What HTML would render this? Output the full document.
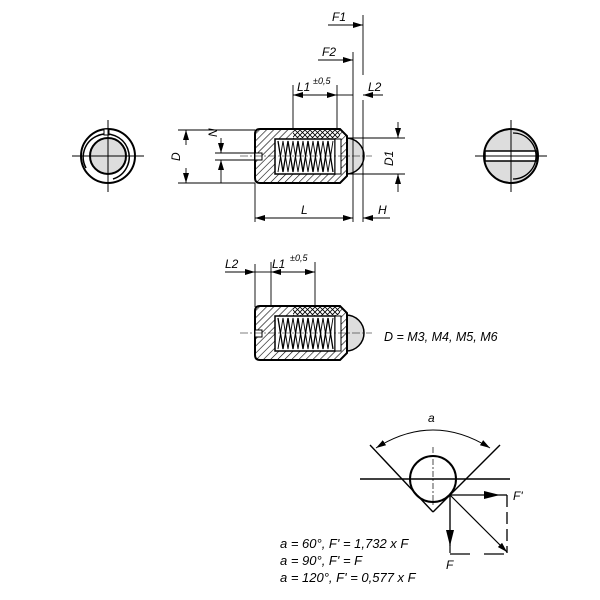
<!DOCTYPE html>
<html><head><style>body{margin:0;background:#fff}svg{display:block}text{font-family:"Liberation Sans",sans-serif;font-style:italic;fill:#000}</style></head>
<body>
<svg width="600" height="600" viewBox="0 0 600 600">
<defs>
<pattern id="h" width="5" height="5" patternUnits="userSpaceOnUse" patternTransform="rotate(45)"><rect width="5" height="5" fill="#fff"/><line x1="0" y1="0" x2="0" y2="5" stroke="#000" stroke-width="1.2"/></pattern>
<pattern id="x" width="5" height="5" patternUnits="userSpaceOnUse"><rect width="5" height="5" fill="#fff"/><path d="M0 0L5 5M5 0L0 5" stroke="#000" stroke-width="0.8"/></pattern>
<marker id="a" viewBox="0 0 10 6" refX="10" refY="3" markerWidth="10" markerHeight="6" orient="auto" markerUnits="userSpaceOnUse"><path d="M0 0L10 3L0 6z"/></marker>
<marker id="s" viewBox="0 0 10 6" refX="0" refY="3" markerWidth="10" markerHeight="6" orient="auto" markerUnits="userSpaceOnUse"><path d="M10 0L0 3L10 6z"/></marker>
<marker id="b" viewBox="0 0 16 8" refX="16" refY="4" markerWidth="16" markerHeight="8" orient="auto" markerUnits="userSpaceOnUse"><path d="M0 0L16 4L0 8z"/></marker>
<g id="pin">
<circle cx="346" cy="156" r="18" fill="#ddd" stroke="#000" stroke-width="1.5"/>
<path d="M255 134Q255 129 260 129H340L347 136V176L340 183H260Q255 183 255 178Z" fill="url(#h)" stroke="#000" stroke-width="2"/>
<rect x="293" y="130" width="47" height="8" fill="url(#x)"/>
<rect x="275" y="139" width="60" height="35" fill="#fff" stroke="#000" stroke-width="1.5"/>
<path d="M278 141L283 172L288 141L293 172L298 141L303 172L308 141L313 172L318 141L323 172L328 141L333 172" fill="none" stroke="#000" stroke-width="1.3"/>
<path d="M278 172L283 141L288 172L293 141L298 172L303 141L308 172L313 141L318 172L323 141L328 172L333 141" fill="none" stroke="#000" stroke-width="0.9"/>
<rect x="335" y="139" width="6" height="35" fill="#fff" stroke="#000" stroke-width="1"/>
<rect x="255" y="153" width="7" height="7" fill="#fff" stroke="#000" stroke-width="1"/>
<line x1="240" y1="156" x2="372" y2="156" stroke="#000" stroke-width="0.6" stroke-dasharray="8 2 2 2"/>
</g>
</defs>
<g stroke="#000" fill="none" stroke-width="1">
<circle cx="108" cy="156" r="27" stroke-width="2"/>
<circle cx="108" cy="156" r="18" fill="#ddd" stroke-width="2"/>
<path d="M86 168A23 23 0 1 1 113 179" stroke-width="1.5"/>
<rect x="104" y="129" width="5" height="6" fill="#fff"/>
<line x1="72" y1="156" x2="144" y2="156"/><line x1="108" y1="120" x2="108" y2="192"/>
<circle cx="511" cy="156" r="27" fill="#ddd" stroke-width="2"/>
<rect x="485" y="151" width="52" height="10" fill="#fff" stroke-width="1.5"/>
<path d="M513 133A23 23 0 0 1 513 179" stroke-width="1.3"/>
<line x1="475" y1="156" x2="547" y2="156"/><line x1="511" y1="120" x2="511" y2="192"/>
</g>
<use href="#pin"/>
<use href="#pin" transform="translate(0,177)"/>
<g stroke="#000" fill="none" stroke-width="0.9">
<line x1="178" y1="130" x2="255" y2="130"/><line x1="178" y1="183" x2="255" y2="183"/>
<line x1="186" y1="145" x2="186" y2="130" marker-end="url(#a)"/><line x1="186" y1="168" x2="186" y2="183" marker-end="url(#a)"/>
<line x1="215" y1="153" x2="255" y2="153"/><line x1="215" y1="160" x2="255" y2="160"/>
<line x1="221" y1="138" x2="221" y2="153" marker-end="url(#a)"/><line x1="221" y1="183" x2="221" y2="160" marker-end="url(#a)"/>
<line x1="346" y1="138" x2="405" y2="138"/><line x1="346" y1="174" x2="405" y2="174"/>
<line x1="398" y1="122" x2="398" y2="138" marker-end="url(#a)"/><line x1="398" y1="192" x2="398" y2="174" marker-end="url(#a)"/>
<line x1="255" y1="183" x2="255" y2="222"/>
<line x1="353" y1="52" x2="353" y2="222"/>
<line x1="363" y1="15" x2="363" y2="75"/><line x1="363" y1="100" x2="363" y2="222"/>
<line x1="293" y1="85" x2="293" y2="130"/><line x1="337" y1="85" x2="337" y2="130"/>
<line x1="300" y1="218" x2="255" y2="218" marker-end="url(#a)"/><line x1="300" y1="218" x2="353" y2="218" marker-end="url(#a)"/>
<line x1="390" y1="218" x2="363" y2="218" marker-end="url(#a)"/>
<line x1="328" y1="25" x2="363" y2="25" marker-end="url(#a)"/>
<line x1="318" y1="60" x2="353" y2="60" marker-end="url(#a)"/>
<line x1="315" y1="95" x2="293" y2="95" marker-end="url(#a)"/><line x1="315" y1="95" x2="337" y2="95" marker-end="url(#a)"/>
<line x1="337" y1="95" x2="353" y2="95"/>
<line x1="383" y1="95" x2="363" y2="95" marker-end="url(#a)"/>
<line x1="255" y1="264" x2="255" y2="307"/><line x1="271" y1="262" x2="271" y2="307"/><line x1="315" y1="262" x2="315" y2="307"/>
<line x1="225" y1="272" x2="255" y2="272" marker-end="url(#a)"/>
<line x1="255" y1="272" x2="271" y2="272"/>
<line x1="295" y1="272" x2="271" y2="272" marker-end="url(#a)"/><line x1="295" y1="272" x2="315" y2="272" marker-end="url(#a)"/>
<line x1="370" y1="445" x2="433" y2="512" stroke-width="1.4"/><line x1="433" y1="512" x2="500" y2="445" stroke-width="1.4"/>
<line x1="360" y1="479" x2="510" y2="479" stroke-width="1.6"/>
<circle cx="433" cy="479" r="23" stroke-width="2"/>
<line x1="433" y1="447" x2="433" y2="505" stroke-dasharray="6 2 2 2" stroke-width="0.7"/>
<path d="M376 448Q433 412 490 448" marker-start="url(#s)" marker-end="url(#a)"/>
<line x1="450" y1="495" x2="500" y2="495" stroke-width="1.2" marker-end="url(#b)"/>
<line x1="450" y1="495" x2="450" y2="553" stroke-width="1.2"/>
<line x1="450" y1="495" x2="450" y2="546" stroke-width="1.2" marker-end="url(#b)"/>
<line x1="450" y1="495" x2="507" y2="552" stroke-width="1.2" marker-end="url(#a)"/>
<line x1="507" y1="495" x2="507" y2="553" stroke-dasharray="12 5" stroke-width="1.3"/>
<line x1="450" y1="554" x2="507" y2="554" stroke-dasharray="20 14" stroke-width="1.3"/>
<line x1="500" y1="495" x2="507" y2="495" stroke-width="1.3"/>
</g>
<g font-size="12">
<text x="332" y="21">F1</text>
<text x="322" y="56">F2</text>
<text x="297" y="91">L1</text><text x="313" y="84" font-size="9">±0,5</text>
<text x="368" y="91">L2</text>
<text x="301" y="214">L</text>
<text x="378" y="214">H</text>
<text transform="translate(180,161) rotate(-90)">D</text>
<text transform="translate(217,137) rotate(-90)">N</text>
<text transform="translate(393,166) rotate(-90)">D1</text>
<text x="225" y="268">L2</text>
<text x="272" y="268">L1</text><text x="290" y="261" font-size="9">±0,5</text>
<text x="384" y="341" font-style="normal" font-size="12.5">D = M3, M4, M5, M6</text>
<text x="428" y="422">a</text>
<text x="513" y="500">F'</text>
<text x="446" y="569">F</text>
<g font-size="13">
<text x="280" y="548">a = 60°, F' = 1,732 x F</text>
<text x="280" y="565">a = 90°, F' = F</text>
<text x="280" y="582">a = 120°, F' = 0,577 x F</text>
</g>
</g>
</svg>
</body></html>
